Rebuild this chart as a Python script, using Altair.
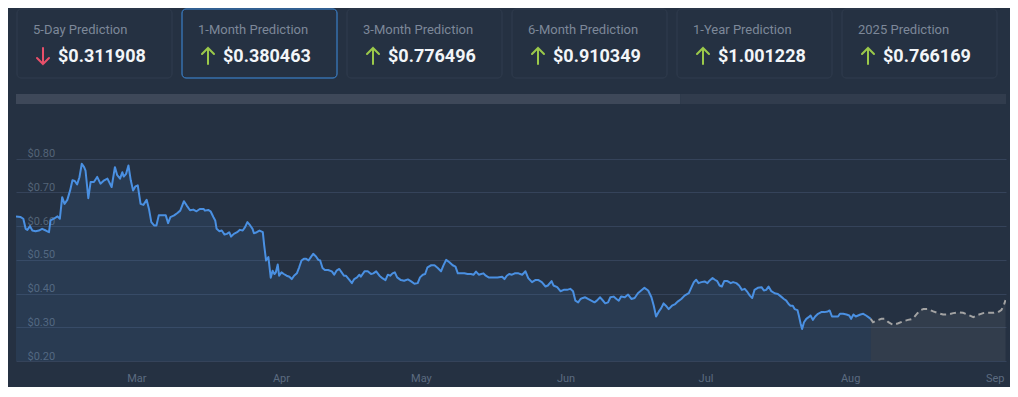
import altair as alt
import pandas as pd

# ---------------- data ----------------
START = pd.Timestamp("2024-02-04 05:00")

actual_days = [0, 1.0, 1.57, 2.07, 2.43, 3.0, 3.5, 4.2, 4.9, 5.6, 6.4, 7.07, 7.4, 8.1, 8.9, 9.4, 9.9, 10.4, 11.0, 11.6,
               12.1, 12.6, 13.1, 13.6, 14.1, 14.6, 14.9, 15.5, 16.0, 16.7, 17.4, 18.1, 18.9, 19.6, 20.5, 21.2, 21.7,
               22.3, 22.8, 23.1, 23.6, 24.1, 24.6, 25.1, 25.6, 26.1, 26.7, 27.3, 28.0, 28.5, 29.0, 29.6, 30.1, 30.6,
               31.4, 32.1, 32.6, 33.1, 33.9, 34.6,
               35.2, 36.0, 36.6, 37.3, 38.0, 38.7, 39.4, 40.2, 40.5, 41.2, 41.7, 42.3, 42.7, 43.0, 43.6, 44.1, 44.7,
               45.2, 45.7, 46.1, 46.7, 47.4, 48.0, 48.6, 49.1, 49.6, 50.2, 50.7, 51.0, 51.6, 52.2, 52.9, 53.2, 53.6,
               54.1, 54.6, 55.0, 55.4, 55.7, 56.1, 56.4, 56.9, 57.4, 58.0, 58.6, 59.1, 59.6, 60.2, 60.7, 61.2, 61.7,
               62.2, 62.7, 63.2, 63.7, 64.3, 64.8, 65.2, 65.7, 66.2, 66.9, 67.7, 68.2, 68.7, 69.3, 69.8, 70.3,
               70.7, 71.5, 72.0, 72.5, 73.1, 73.6, 73.9, 74.7, 75.4, 76.1, 76.6, 77.2, 77.9, 78.6, 79.2, 79.7, 80.2,
               80.7, 81.2, 81.7, 82.5, 83.2, 84.0, 84.7, 85.4, 86.1, 86.6, 87.2, 87.7, 88.2, 89.0, 89.7, 90.4, 91.1,
               91.6, 92.2, 92.9, 93.6, 94.2, 94.7, 95.4, 96.1, 96.8, 97.5, 98.1, 98.6, 99.2, 99.7, 100.2, 100.7,
               101.3, 102.2, 103.2, 104.2, 104.7, 105.2, 105.7,
               106.3, 106.9, 107.7, 108.5, 109.2, 109.8, 110.6, 111.3, 112.0, 112.7, 113.5, 114.0, 114.8, 115.2,
               116.0, 116.7, 117.4, 118.1, 118.8, 119.4, 119.9, 120.5, 121.0, 121.5, 122.0, 122.6, 123.3, 124.0,
               124.5, 125.2, 125.7, 126.3, 126.9, 127.4, 128.1, 128.7, 129.2, 129.7, 130.5, 131.2, 131.9, 132.6,
               133.3, 134.0, 134.7, 135.5, 136.2, 136.7, 137.2, 137.8, 138.3, 138.8, 139.3, 139.9, 140.6, 141.3,
               141.9, 142.6, 143.3, 144.2, 144.8, 145.3, 145.8, 146.3, 146.9, 147.6, 148.2, 148.7, 149.3, 149.8,
               150.3, 150.8, 151.3, 151.8, 152.5, 153.2, 153.7, 154.4, 155.0, 155.6, 156.2, 156.8, 157.3, 157.8,
               158.3, 159.0, 159.8, 160.3, 160.8, 161.3, 161.9, 162.6, 163.3, 164.0, 164.6, 165.1, 165.6, 166.0,
               166.5, 166.9, 167.5, 167.8, 168.2, 168.5, 168.9, 169.4, 169.9, 170.3, 170.8, 171.3, 171.9, 172.6,
               173.3, 174.0, 174.4, 174.9, 175.5, 176.2,
               176.6, 177.3, 178.0, 178.6, 179.0, 179.5, 180.0, 180.5, 181.0, 181.6, 182.2, 182.7, 183.2]

actual_prices = [0.629, 0.627, 0.622, 0.592, 0.589, 0.600, 0.587, 0.585, 0.587, 0.592, 0.587, 0.582, 0.617, 0.622,
                 0.629, 0.622, 0.686, 0.666, 0.678, 0.706, 0.736, 0.734, 0.724, 0.745, 0.785, 0.775, 0.765, 0.683,
                 0.731, 0.731, 0.746, 0.726, 0.736, 0.741, 0.716, 0.775, 0.751, 0.741, 0.760, 0.747, 0.755, 0.780,
                 0.736, 0.706, 0.718, 0.721, 0.666, 0.663, 0.678, 0.651, 0.612, 0.602, 0.602, 0.632, 0.632, 0.632,
                 0.609, 0.627, 0.632, 0.639,
                 0.646, 0.674, 0.661, 0.647, 0.649, 0.644, 0.651, 0.651, 0.646, 0.648, 0.644, 0.627, 0.617, 0.592,
                 0.585, 0.587, 0.575, 0.577, 0.582, 0.569, 0.577, 0.582, 0.589, 0.587, 0.597, 0.612, 0.602, 0.592,
                 0.579, 0.582, 0.587, 0.582, 0.543, 0.498, 0.508, 0.447, 0.468, 0.458, 0.463, 0.486, 0.453, 0.463,
                 0.458, 0.453, 0.450, 0.443, 0.453, 0.460, 0.478, 0.498, 0.503, 0.503, 0.498, 0.508, 0.518, 0.510,
                 0.500, 0.498, 0.476, 0.470, 0.470, 0.466, 0.456, 0.468, 0.473, 0.463, 0.453,
                 0.453, 0.440, 0.431, 0.443, 0.448, 0.456, 0.450, 0.466, 0.466, 0.458, 0.460, 0.466, 0.453, 0.445,
                 0.440, 0.456, 0.453, 0.460, 0.463, 0.448, 0.440, 0.438, 0.442, 0.436, 0.429, 0.431, 0.448, 0.456,
                 0.458, 0.478, 0.484, 0.484, 0.476, 0.466, 0.483, 0.500, 0.493, 0.484, 0.480, 0.460, 0.460, 0.460,
                 0.458, 0.458, 0.456, 0.465, 0.456, 0.458, 0.460, 0.453, 0.448, 0.448, 0.448, 0.450, 0.443, 0.453,
                 0.458,
                 0.456, 0.460, 0.460, 0.456, 0.466, 0.446, 0.434, 0.440, 0.440, 0.434, 0.421, 0.424, 0.437, 0.424,
                 0.419, 0.407, 0.411, 0.411, 0.414, 0.407, 0.379, 0.374, 0.384, 0.387, 0.389, 0.384, 0.379, 0.374,
                 0.379, 0.389, 0.381, 0.371, 0.374, 0.389, 0.391, 0.384, 0.379, 0.391, 0.389, 0.397, 0.384, 0.387,
                 0.401, 0.409, 0.417, 0.409, 0.389, 0.364, 0.332, 0.347, 0.357, 0.371, 0.364, 0.354, 0.364, 0.369,
                 0.377, 0.384, 0.394, 0.401, 0.419, 0.434, 0.441, 0.431, 0.434, 0.436, 0.431, 0.439, 0.446, 0.441,
                 0.437, 0.424, 0.421, 0.437, 0.437, 0.431, 0.434, 0.431, 0.424, 0.411, 0.414, 0.404, 0.394, 0.387,
                 0.411, 0.417, 0.419, 0.409, 0.411, 0.421, 0.407, 0.401, 0.399, 0.391, 0.384, 0.379, 0.369, 0.364,
                 0.364, 0.354, 0.351, 0.335, 0.310, 0.295, 0.315, 0.325, 0.330, 0.335, 0.322, 0.332, 0.340, 0.345,
                 0.345, 0.347, 0.350, 0.332, 0.332, 0.332,
                 0.340, 0.340, 0.338, 0.335, 0.325, 0.338, 0.332, 0.335, 0.338, 0.340, 0.335, 0.330, 0.325]

forecast_days = [183.2, 183.7, 184.5, 185.5, 186.2, 187.0, 188.0, 189.1, 190.2, 191.2, 192.2, 193.0, 193.7, 194.5,
                 195.5, 196.6, 197.7, 198.7, 199.8, 200.9, 202.0, 203.0, 204.1, 205.2, 206.2, 207.3, 208.4, 209.5,
                 210.5, 211.2, 211.7, 212.1]
forecast_prices = [0.325, 0.315, 0.320, 0.325, 0.325, 0.315, 0.307, 0.312, 0.318, 0.322, 0.325, 0.338, 0.350, 0.354,
                   0.354, 0.347, 0.342, 0.338, 0.338, 0.342, 0.344, 0.343, 0.337, 0.330, 0.337, 0.342, 0.343, 0.343,
                   0.345, 0.351, 0.364, 0.381]

card_titles = ["5-Day Prediction", "1-Month Prediction", "3-Month Prediction",
               "6-Month Prediction", "1-Year Prediction", "2025 Prediction"]
card_values = [0.311908, 0.380463, 0.776496, 0.910349, 1.001228, 0.766169]
card_dirs = ["down", "up", "up", "up", "up", "up"]
selected_card = "1-Month Prediction"

progress_starts = [0.0, 0.671]
progress_ends = [0.671, 1.0]
progress_parts = ["done", "rest"]

y_ticks = [0.2, 0.3, 0.4, 0.5, 0.6, 0.7, 0.8]
month_ticks = [(2024, 3), (2024, 4), (2024, 5), (2024, 6), (2024, 7), (2024, 8), (2024, 9)]

# ---------------- style ----------------
BG = "#253142"
CARD_FILL = "#253142"
CARD_BORDER = "#303c4e"
SEL_BORDER = "#3f8ee0"
TITLE_C = "#7d8899"
VALUE_C = "#f2f5f8"
RED = "#e8506a"
GREEN = "#9bc94a"
BAR_DONE = "#3e4859"
BAR_REST = "#313c4d"
BLUE = "#4a90e2"
GREY = "#a3a3a3"
GRID = "#35435a"
YLAB = "#546478"
XLAB = "#5c6b80"
FONT = "Roboto"

UP_PATH = "M0,1 L0,-1 M-0.75,-0.25 L0,-1 L0.75,-0.25"
DOWN_PATH = "M0,-1 L0,1 M-0.75,0.25 L0,1 L0.75,0.25"

# ---------------- tables ----------------
actual = pd.DataFrame({
    "date": (START + pd.to_timedelta(actual_days, unit="D")).round("min"),
    "price": actual_prices,
})
forecast = pd.DataFrame({
    "date": (START + pd.to_timedelta(forecast_days, unit="D")).round("min"),
    "price": forecast_prices,
})
cards = pd.DataFrame({
    "title": card_titles,
    "label": [f"${v:.6f}" for v in card_values],
    "dir": card_dirs,
    "selected": [t == selected_card for t in card_titles],
})
progress = pd.DataFrame({"start": progress_starts, "end": progress_ends, "part": progress_parts})

# ---------------- top panel: cards + bar ----------------
card_scale = alt.Scale(type="band", paddingInner=10 / 165, paddingOuter=5 / 165, align=0.1)
cx = alt.X("title:N", sort=card_titles, scale=card_scale, axis=None, title=None)
cx0 = alt.X("title:N", sort=card_titles, scale=card_scale, axis=None, title=None, bandPosition=0)

card_rect = alt.Chart(cards).mark_rect(cornerRadius=4, fill=CARD_FILL, strokeWidth=1).encode(
    x=cx,
    y=alt.value(0),
    y2=alt.value(69),
    stroke=alt.condition("datum.selected", alt.value(SEL_BORDER), alt.value(CARD_BORDER)),
)
card_title = alt.Chart(cards).mark_text(
    align="left", baseline="alphabetic", dx=16, fontSize=13, font=FONT, color=TITLE_C
).encode(x=cx0, y=alt.value(25), text="title:N")
card_value = alt.Chart(cards).mark_text(
    align="left", baseline="alphabetic", dx=41, fontSize=18, font=FONT, fontWeight="bold", color=VALUE_C
).encode(x=cx0, y=alt.value(53), text="label:N")
card_arrow = alt.Chart(cards).mark_point(
    filled=False, strokeWidth=2, size=256, opacity=1, xOffset=26, strokeCap="round"
).encode(
    x=cx0,
    y=alt.value(47),
    shape=alt.Shape("dir:N", scale=alt.Scale(domain=["down", "up"], range=[DOWN_PATH, UP_PATH]), legend=None),
    color=alt.Color("dir:N", scale=alt.Scale(domain=["down", "up"], range=[RED, GREEN]), legend=None),
)
bar = alt.Chart(progress).mark_rect().encode(
    x=alt.X("start:Q", scale=alt.Scale(domain=[0, 1], nice=False, zero=False), axis=None, title=None),
    x2="end:Q",
    y=alt.value(85),
    y2=alt.value(95),
    color=alt.Color("part:N", scale=alt.Scale(domain=["done", "rest"], range=[BAR_DONE, BAR_REST]), legend=None),
)

top = alt.layer(card_rect, card_title, card_value, card_arrow, bar).resolve_scale(
    x="independent", color="independent"
).properties(width=990, height=95)

# ---------------- line panel ----------------
x_scale = alt.Scale(domain=[alt.DateTime(year=2024, month=2, date=4, hours=5),
                            alt.DateTime(year=2024, month=9, date=3, hours=9, minutes=48)])
x_axis = alt.Axis(
    values=[alt.DateTime(year=y, month=m, date=1) for y, m in month_ticks],
    format="%b", labelColor=XLAB, labelFontSize=11, labelFont=FONT, labelPadding=11,
    ticks=False, domain=False, grid=False, labelFlush=False, title=None,
)
y_scale = alt.Scale(domain=[0.2, 0.9], zero=False, nice=False)
y_axis = alt.Axis(
    values=y_ticks, labelExpr="'$' + format(datum.value, '.2f')",
    labelAlign="left", labelBaseline="alphabetic", labelPadding=-11, labelOffset=-2,
    labelColor=YLAB, labelFontSize=11, labelFont=FONT,
    ticks=False, domain=False, grid=True, gridColor=GRID, gridWidth=1, title=None,
)
xe = alt.X("date:T", scale=x_scale, axis=x_axis, title=None)
ye = alt.Y("price:Q", scale=y_scale, axis=y_axis, title=None)

area_actual = alt.Chart(actual).mark_area(color=BLUE, opacity=0.1, clip=True).encode(
    x=xe, y=ye, y2=alt.datum(0.2))
area_fc = alt.Chart(forecast).mark_area(color=GREY, opacity=0.1, clip=True).encode(
    x=xe, y=ye, y2=alt.datum(0.2))
line_actual = alt.Chart(actual).mark_line(color=BLUE, strokeWidth=2, strokeJoin="round", clip=True).encode(
    x=xe, y=ye)
line_fc = alt.Chart(forecast).mark_line(color=GREY, strokeWidth=2, strokeDash=[6, 4], clip=True).encode(
    x=xe, y=ye)

main = alt.layer(area_actual, area_fc, line_actual, line_fc).properties(width=990, height=236)

chart = alt.vconcat(top, main, spacing=21).properties(
    padding={"left": 8, "top": 0, "right": 4, "bottom": 4},
    background=BG,
).configure_view(stroke=None)

chart.save("out.html", embed_options={"renderer": "svg", "actions": False})
